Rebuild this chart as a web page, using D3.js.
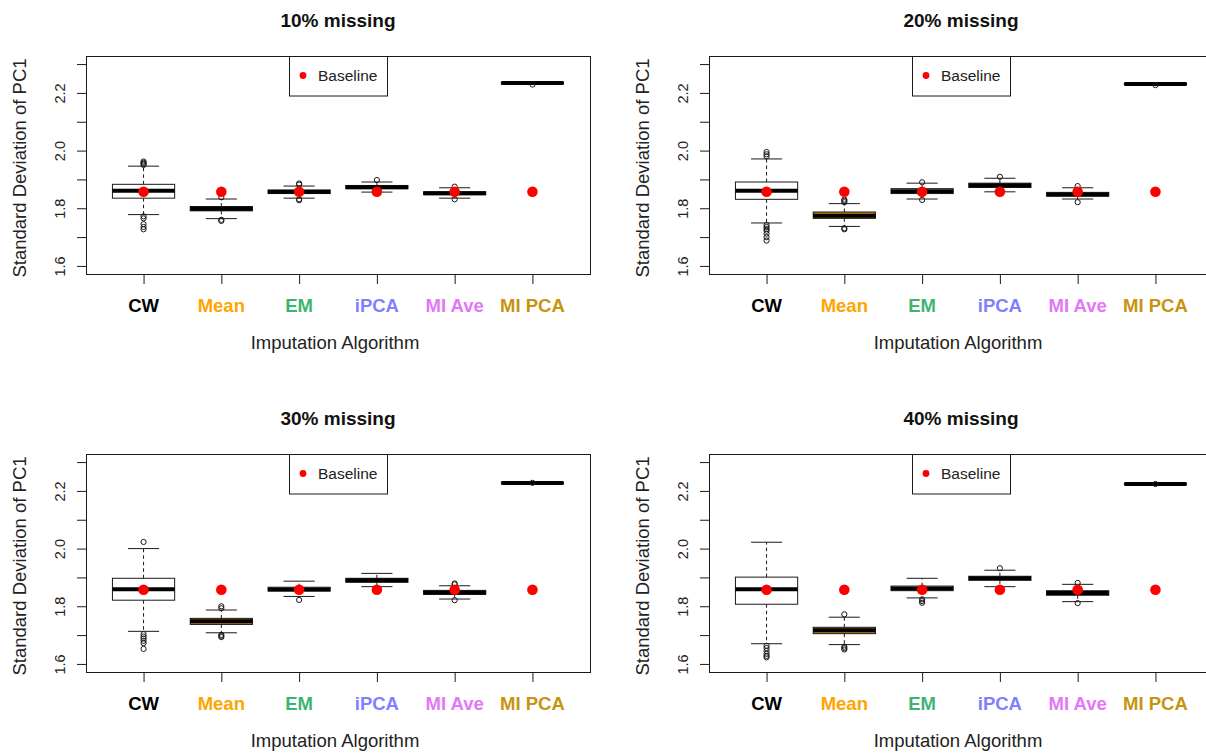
<!DOCTYPE html>
<html>
<head>
<meta charset="utf-8">
<script src="https://cdn.jsdelivr.net/npm/d3@7"></script>
<style>
html,body{margin:0;padding:0;background:#fff;}
text{font-family:"Liberation Sans",Arial,sans-serif;}
</style>
</head>
<body>
<svg id="chart" width="1206" height="755"></svg>
<script>
// ---------- DATA ----------
const categories = ["CW", "Mean", "EM", "iPCA", "MI Ave", "MI PCA"];
const panelTitles = ["10% missing", "20% missing", "30% missing", "40% missing"];
const yTicks = [1.6, 1.7, 1.8, 1.9, 2.0, 2.1, 2.2, 2.3];
const yTickLabels = ["1.6", "", "1.8", "", "2.0", "", "2.2", ""];
const baseline = 1.857;
const xLabel = "Imputation Algorithm";
const yLabel = "Standard Deviation of PC1";
const legendLabel = "Baseline";

// [lower whisker, Q1, median, Q3, upper whisker] per category
const stats10 = [
  [1.778, 1.835, 1.861, 1.883, 1.946],
  [1.764, 1.791, 1.798, 1.806, 1.832],
  [1.835, 1.851, 1.857, 1.863, 1.877],
  [1.856, 1.868, 1.873, 1.879, 1.891],
  [1.835, 1.847, 1.852, 1.857, 1.871],
  [2.231, 2.232, 2.234, 2.236, 2.237]
];
const outliers10 = [
  [1.950, 1.954, 1.958, 1.962, 1.772, 1.765, 1.745, 1.735, 1.727],
  [1.838, 1.760, 1.756],
  [1.882, 1.886, 1.831, 1.828],
  [1.898],
  [1.875, 1.831],
  [2.229]
];
const stats20 = [
  [1.749, 1.831, 1.861, 1.891, 1.971],
  [1.737, 1.765, 1.774, 1.787, 1.816],
  [1.832, 1.851, 1.859, 1.868, 1.887],
  [1.857, 1.872, 1.880, 1.887, 1.904],
  [1.832, 1.842, 1.848, 1.855, 1.871],
  [2.228, 2.229, 2.231, 2.233, 2.234]
];
const outliers20 = [
  [1.980, 1.987, 1.995, 1.742, 1.735, 1.728, 1.722, 1.712, 1.700, 1.688],
  [1.821, 1.826, 1.830, 1.731, 1.727],
  [1.890, 1.829],
  [1.909],
  [1.877, 1.821],
  [2.227]
];
const stats30 = [
  [1.713, 1.821, 1.859, 1.897, 2.000],
  [1.708, 1.737, 1.748, 1.758, 1.787],
  [1.834, 1.853, 1.858, 1.866, 1.887],
  [1.868, 1.883, 1.890, 1.897, 1.914],
  [1.825, 1.841, 1.848, 1.855, 1.871],
  [2.225, 2.226, 2.227, 2.228, 2.229]
];
const outliers30 = [
  [2.023, 1.703, 1.695, 1.688, 1.680, 1.672, 1.652],
  [1.793, 1.800, 1.701, 1.697, 1.693],
  [1.822],
  [],
  [1.876, 1.879, 1.821],
  [2.228]
];
const stats40 = [
  [1.670, 1.807, 1.859, 1.901, 2.022],
  [1.667, 1.705, 1.717, 1.727, 1.762],
  [1.829, 1.854, 1.862, 1.870, 1.897],
  [1.868, 1.890, 1.897, 1.904, 1.925],
  [1.816, 1.838, 1.846, 1.854, 1.876],
  [2.222, 2.223, 2.224, 2.225, 2.226]
];
const outliers40 = [
  [1.663, 1.655, 1.645, 1.635, 1.628, 1.623],
  [1.772, 1.660, 1.655, 1.650],
  [1.824, 1.818, 1.812],
  [1.932],
  [1.881, 1.811],
  [2.224]
];

// ---------- STYLE ----------
const labelColors = ["#000000", "#FFA500", "#3CB371", "#8080FF", "#E377F8", "#C8930E"];
const boxFills = ["#ffffff", "#C8860B", "#ffffff", "#ffffff", "#ffffff", "#ffffff"];
const ink = "#1a1a1a";

const panels = [
  {title: panelTitles[0], stats: stats10, out: outliers10, left: 86, top: 56},
  {title: panelTitles[1], stats: stats20, out: outliers20, left: 709, top: 56},
  {title: panelTitles[2], stats: stats30, out: outliers30, left: 86, top: 454},
  {title: panelTitles[3], stats: stats40, out: outliers40, left: 709, top: 454}
];
const W = 504, H = 218;

const svg = d3.select("#chart");

panels.forEach(p => {
  const g = svg.append("g");
  const x = d3.scaleLinear().domain([0.26, 6.74]).range([p.left, p.left + W]);
  const y = d3.scaleLinear().domain([1.572, 2.328]).range([p.top + H, p.top]);
  const bw = x(1.8) - x(1);
  const cw = bw / 2;

  // frame
  g.append("rect").attr("x", p.left + 0.5).attr("y", p.top + 0.5)
    .attr("width", W).attr("height", H)
    .attr("fill", "none").attr("stroke", ink).attr("stroke-width", 1);

  // y axis
  const yAxis = d3.axisLeft(y).tickValues(yTicks)
    .tickFormat((d, i) => yTickLabels[i]).tickSize(9.5).tickPadding(0);
  const ya = g.append("g").attr("transform", `translate(${p.left + 0.5},0)`).call(yAxis);
  ya.select(".domain").remove();
  ya.selectAll(".tick line").attr("stroke", ink);
  ya.selectAll(".tick text")
    .attr("font-size", 14.5).attr("fill", "#222")
    .attr("text-anchor", "middle")
    .attr("x", 0).attr("dy", 0)
    .attr("transform", "translate(-21.5,0) rotate(-90)")
    .attr("y", 0);

  // x axis
  const xAxis = d3.axisBottom(x).tickValues(d3.range(1, 7)).tickFormat("").tickSize(9.5);
  const xa = g.append("g").attr("transform", `translate(0,${p.top + H + 0.5})`).call(xAxis);
  xa.select(".domain").remove();
  xa.selectAll(".tick line").attr("stroke", ink);

  // category labels
  g.selectAll(".cat").data(categories).enter().append("text")
    .attr("x", (d, i) => x(i + 1)).attr("y", p.top + H + 38)
    .attr("text-anchor", "middle").attr("font-size", 18.5).attr("font-weight", "bold")
    .attr("fill", (d, i) => labelColors[i]).text(d => d);

  // axis titles
  g.append("text").attr("x", p.left + W / 2 - 3).attr("y", p.top + H + 74.5)
    .attr("text-anchor", "middle").attr("font-size", 18.5).attr("fill", "#222").text(xLabel);
  g.append("text")
    .attr("transform", `translate(${p.left - 60},${p.top + H / 2 + 3}) rotate(-90)`)
    .attr("text-anchor", "middle").attr("font-size", 18.5).attr("fill", "#222").text(yLabel);

  // title
  g.append("text").attr("x", p.left + W / 2).attr("y", p.top - 29)
    .attr("text-anchor", "middle").attr("font-size", 19).attr("font-weight", "bold")
    .attr("fill", "#111").text(p.title);

  // boxes
  p.stats.forEach((s, i) => {
    const cx = x(i + 1);
    const [lo, q1, med, q3, hi] = s;
    // whiskers
    g.append("line").attr("x1", cx).attr("x2", cx).attr("y1", y(q3)).attr("y2", y(hi))
      .attr("stroke", ink).attr("stroke-dasharray", "3.5,3");
    g.append("line").attr("x1", cx).attr("x2", cx).attr("y1", y(q1)).attr("y2", y(lo))
      .attr("stroke", ink).attr("stroke-dasharray", "3.5,3");
    // caps
    [lo, hi].forEach(v => {
      g.append("line").attr("x1", cx - cw / 2).attr("x2", cx + cw / 2)
        .attr("y1", y(v)).attr("y2", y(v)).attr("stroke", ink);
    });
    // box
    g.append("rect").attr("x", cx - bw / 2).attr("y", y(q3))
      .attr("width", bw).attr("height", Math.max(0.1, y(q1) - y(q3)))
      .attr("fill", boxFills[i]).attr("stroke", ink).attr("stroke-width", 1);
    // median
    g.append("line").attr("x1", cx - bw / 2).attr("x2", cx + bw / 2)
      .attr("y1", y(med)).attr("y2", y(med)).attr("stroke", "#000").attr("stroke-width", 4);
    // outliers
    p.out[i].forEach(v => {
      g.append("circle").attr("cx", cx).attr("cy", y(v)).attr("r", 2.6)
        .attr("fill", "none").attr("stroke", ink).attr("stroke-width", 1);
    });
  });

  // baseline points
  g.selectAll(".base").data(categories).enter().append("circle")
    .attr("cx", (d, i) => x(i + 1)).attr("cy", y(baseline)).attr("r", 5.3)
    .attr("fill", "#FF0000");

  // legend
  const lx = p.left + W / 2 - 49, ly = p.top;
  g.append("rect").attr("x", lx + 0.5).attr("y", ly + 0.5).attr("width", 98).attr("height", 39.5)
    .attr("fill", "#fff").attr("stroke", ink);
  g.append("circle").attr("cx", lx + 14).attr("cy", ly + 19.5).attr("r", 3.4)
    .attr("fill", "#FF0000");
  g.append("text").attr("x", lx + 29).attr("y", ly + 25).attr("font-size", 15.5)
    .attr("fill", "#222").text(legendLabel);
});
</script>
</body>
</html>
